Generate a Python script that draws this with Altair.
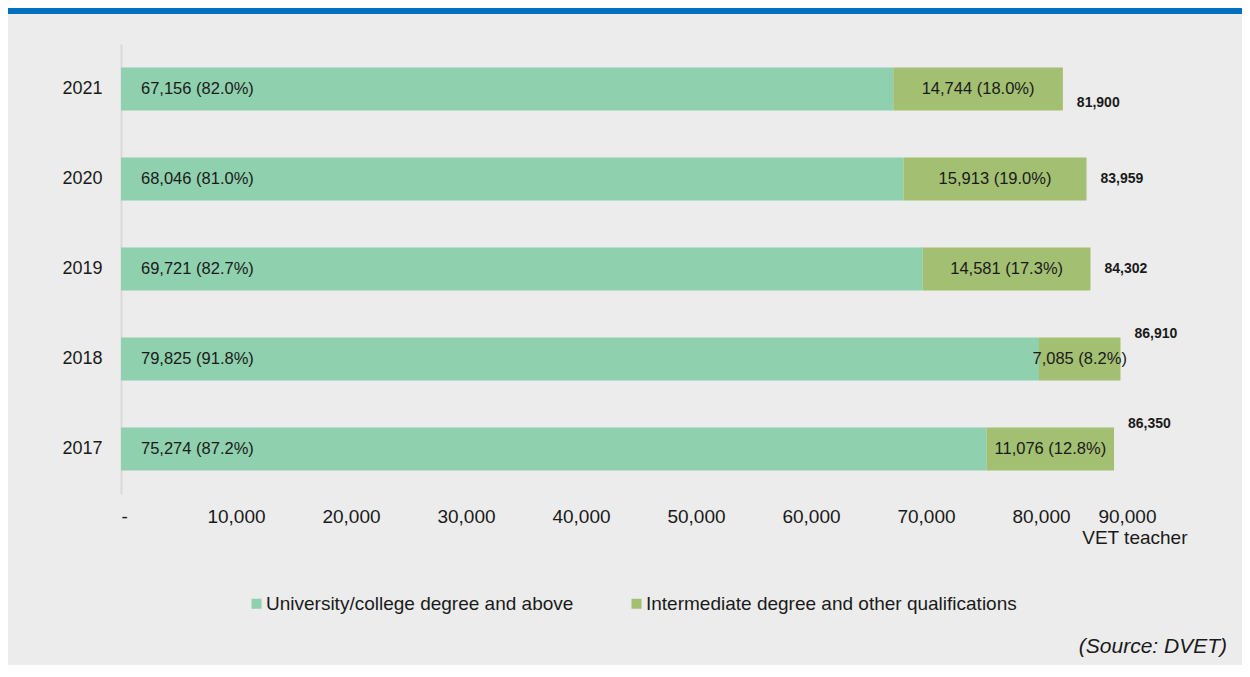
import altair as alt
import pandas as pd

years = ["2021", "2020", "2019", "2018", "2017"]
categories = ["University/college degree and above", "Intermediate degree and other qualifications"]
uni_values = [67156, 68046, 69721, 79825, 75274]
uni_pct = [82.0, 81.0, 82.7, 91.8, 87.2]
inter_values = [14744, 15913, 14581, 7085, 11076]
inter_pct = [18.0, 19.0, 17.3, 8.2, 12.8]
totals = [81900, 83959, 84302, 86910, 86350]
x_ticks = [0, 10000, 20000, 30000, 40000, 50000, 60000, 70000, 80000, 90000]

colors = ["#8fd0ae", "#a3bf72"]
FONT = "Liberation Sans"
TXT = "#1a1a1a"

long_rows = []
for i, y in enumerate(years):
    long_rows.append({"year": y, "cat": categories[0], "idx": 0, "value": uni_values[i], "pct": uni_pct[i]})
    long_rows.append({"year": y, "cat": categories[1], "idx": 1, "value": inter_values[i], "pct": inter_pct[i]})
long_df = pd.DataFrame(long_rows)

wide_df = pd.DataFrame({
    "year": years,
    "uni": uni_values,
    "uni_pct": uni_pct,
    "inter": inter_values,
    "inter_pct": inter_pct,
    "total": totals,
})

y_enc = alt.Y(
    "year:N",
    sort=years,
    scale=alt.Scale(paddingInner=0.52, paddingOuter=0.26),
    axis=alt.Axis(
        title=None, ticks=False, grid=False, domain=True, domainColor="#d9d9d9", domainWidth=2,
        labelFont=FONT, labelFontSize=18, labelColor=TXT, labelPadding=19,
    ),
)

x_scale = alt.Scale(domain=[0, 90000], nice=False, zero=True)

bars = alt.Chart(long_df).mark_bar().encode(
    x=alt.X(
        "value:Q",
        stack="zero",
        scale=x_scale,
        axis=alt.Axis(
            values=x_ticks, ticks=False, grid=False, domain=False,
            labelExpr="datum.value == 0 ? '-' : format(datum.value, ',')",
            labelFont=FONT, labelFontSize=19, labelColor=TXT, labelPadding=13,
            title="VET teacher", titleFont=FONT, titleFontSize=19, titleFontWeight="normal",
            titleColor=TXT, titleX=1066, titleY=49, titleAlign="right", titleBaseline="alphabetic",
        ),
    ),
    y=y_enc,
    color=alt.Color(
        "cat:N",
        scale=alt.Scale(domain=categories, range=colors),
        legend=alt.Legend(
            title=None, orient="none", direction="horizontal", columns=2,
            legendX=126, legendY=550, symbolType="square", symbolSize=100,
            symbolStrokeWidth=0, labelFont=FONT, labelFontSize=19, labelColor=TXT,
            labelOffset=0, columnPadding=53, labelLimit=500,
        ),
    ),
    order=alt.Order("idx:Q"),
)

base_w = alt.Chart(wide_df)

uni_labels = base_w.mark_text(
    align="left", baseline="middle", dx=20, font=FONT, fontSize=16.5, color=TXT
).transform_calculate(
    lab="format(datum.uni, ',') + ' (' + format(datum.uni_pct, '.1f') + '%)'",
    zero="0",
).encode(
    x=alt.X("zero:Q", scale=x_scale),
    y=alt.Y("year:N", sort=years),
    text="lab:N",
)

inter_labels = base_w.mark_text(
    align="center", baseline="middle", font=FONT, fontSize=16.5, color=TXT
).transform_calculate(
    lab="format(datum.inter, ',') + ' (' + format(datum.inter_pct, '.1f') + '%)'",
    mid="datum.uni + datum.inter / 2",
).encode(
    x=alt.X("mid:Q", scale=x_scale),
    y=alt.Y("year:N", sort=years),
    text="lab:N",
)

def total_layer(sel, dy):
    return base_w.transform_filter(
        alt.FieldOneOfPredicate(field="year", oneOf=sel)
    ).transform_calculate(
        lab="format(datum.total, ',')"
    ).mark_text(
        align="left", baseline="middle", dx=14, dy=dy, font=FONT, fontSize=14,
        fontWeight="bold", color=TXT
    ).encode(
        x=alt.X("total:Q", scale=x_scale),
        y=alt.Y("year:N", sort=years),
        text="lab:N",
    )

tot_a = total_layer(["2021"], 14)
tot_b = total_layer(["2020", "2019"], 0)
tot_c = total_layer(["2018", "2017"], -25)

source = alt.Chart(pd.DataFrame({"t": ["(Source: DVET)"]})).mark_text(
    align="right", baseline="middle", font=FONT, fontSize=21, fontStyle="italic", color=TXT
).encode(x=alt.value(1106), y=alt.value(603), text="t:N")

top_strip = alt.Chart(pd.DataFrame({"a": [1]})).mark_rect(color="#0070c0").encode(
    x=alt.value(-113), x2=alt.value(1121), y=alt.value(-36), y2=alt.value(-30)
)

chart = alt.layer(
    bars, uni_labels, inter_labels, tot_a, tot_b, tot_c, source, top_strip
).properties(
    width=1035, height=450,
    autosize=alt.AutoSizeParams(type="none"),
    padding={"left": 113, "top": 36, "right": 86, "bottom": 171},
    background="#ececec",
).configure_view(stroke=None)

chart.save("out.html", embed_options={"renderer": "svg", "actions": False})
